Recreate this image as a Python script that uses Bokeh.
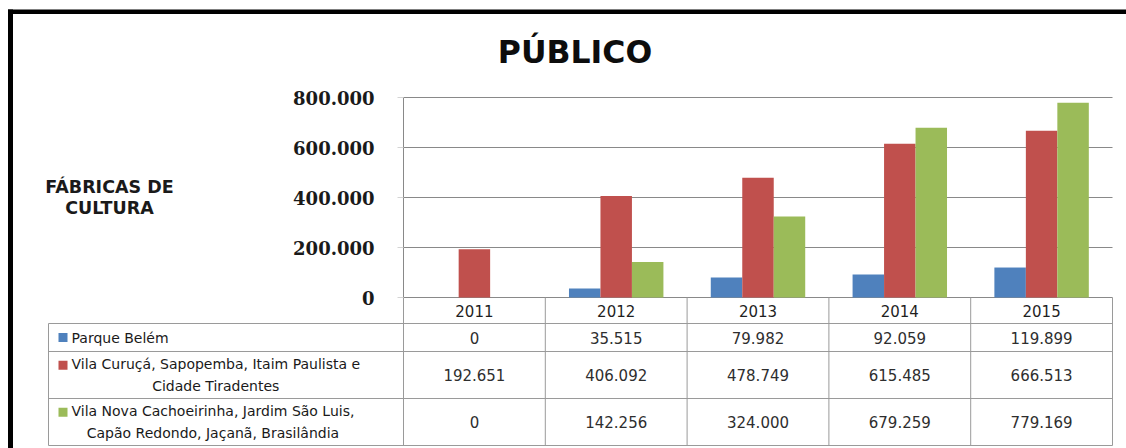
from bokeh.plotting import figure
from bokeh.models import Range1d, FixedTicker, ColumnDataSource
from bokeh.transform import dodge
from bokeh.embed import file_html
from bokeh.resources import INLINE
from bokeh.core.properties import value

# ---------------- data ----------------
years = ["2011", "2012", "2013", "2014", "2015"]
series_names = [
    "Parque Belém",
    "Vila Curuçá, Sapopemba, Itaim Paulista e\nCidade Tiradentes",
    "Vila Nova Cachoeirinha, Jardim São Luis,\nCapão Redondo, Jaçanã, Brasilândia",
]
parque_belem = [0, 35515, 79982, 92059, 119899]
vila_curuca = [192651, 406092, 478749, 615485, 666513]
vila_nova = [0, 142256, 324000, 679259, 779169]
y_ticks = [0, 200000, 400000, 600000, 800000]
y_tick_labels = ["0", "200.000", "400.000", "600.000", "800.000"]
title_text = "PÚBLICO"
side_title = ["FÁBRICAS DE", "CULTURA"]
colors = ["#4F81BD", "#C0504D", "#9BBB59"]

series_values = [parque_belem, vila_curuca, vila_nova]


def fmt(v):
    return f"{v:,}".replace(",", ".")


# ---------------- layout constants (picture pixels) ----------------
W, H = 1126, 448
PLOT_L, PLOT_R = 403, 1112
ZERO_Y, TOP_Y = 297, 97
N = len(years)
COL_W = (PLOT_R - PLOT_L) / N
UPP = y_ticks[-1] / (ZERO_Y - TOP_Y)
GRID_C = "#898989"
TABLE_C = "#9a9a9a"
BAR_W = 0.222


def xa(px):
    return (px - PLOT_L) / COL_W


def ya(py):
    return (ZERO_Y - py) * UPP


p = figure(
    x_range=Range1d(xa(0), xa(W)),
    y_range=Range1d(ya(H), ya(0)),
    width=W, height=H,
    min_border_left=0, min_border_right=0, min_border_top=0, min_border_bottom=0,
    x_axis_location=None,
    title=None,
    toolbar_location=None,
    output_backend="svg",
)
p.outline_line_color = None
p.xgrid.visible = False
p.ygrid.visible = False

# ---------------- y axis placed at the category-axis origin ----------------
ax = p.yaxis[0]
ax.fixed_location = 0.0
ax.ticker = FixedTicker(ticks=y_ticks)
ax.major_label_overrides = dict(zip(y_ticks, y_tick_labels))
ax.bounds = (y_ticks[0], y_ticks[-1])
ax.axis_line_color = GRID_C
ax.major_tick_in = 0
ax.major_tick_out = 6
ax.major_tick_line_color = "#d4d4d4"
ax.minor_tick_line_color = None
ax.major_label_standoff = 23
ax.major_label_text_font = "DejaVu Serif"
ax.major_label_text_font_style = "bold"
ax.major_label_text_font_size = "18px"
ax.major_label_text_color = "#1a1a1a"

# horizontal gridlines across the category span
p.segment(x0=[0.0] * len(y_ticks), y0=y_ticks, x1=[float(N)] * len(y_ticks), y1=y_ticks,
          line_color=GRID_C, line_width=1)

# ---------------- bars ----------------
src = ColumnDataSource(dict(x=[i + 0.5 for i in range(N)], year=years,
                            s0=parque_belem, s1=vila_curuca, s2=vila_nova))
for k, off in enumerate([-BAR_W, 0.0, BAR_W]):
    p.vbar(x=dodge("x", off), top=f"s{k}", width=BAR_W, source=src,
           fill_color=colors[k], line_color=None)

# ---------------- titles ----------------
p.text(x=[xa(574.5)], y=[ya(51)], text=[title_text], text_align="center",
       text_baseline="middle", text_font=value("DejaVu Sans"), text_font_style="bold",
       text_font_size="31.5px", text_color="#0d0d0d")
p.text(x=[xa(109)] * 2, y=[ya(186.5), ya(207)], text=side_title, text_align="center",
       text_baseline="middle", text_font=value("DejaVu Sans"), text_font_style="bold",
       text_font_size="17.5px", text_color="#1a1a1a")

# ---------------- data table ----------------
TAB_L = 48
row_bounds = [ZERO_Y, 323, 351, 398, 445]
yb = [ya(v) for v in row_bounds]

# horizontal lines
p.segment(x0=[xa(TAB_L)] * 4, y0=yb[1:], x1=[float(N)] * 4, y1=yb[1:],
          line_color=TABLE_C, line_width=1)
# vertical lines
vx = [xa(TAB_L)] + [float(i) for i in range(N + 1)]
vy0 = [yb[1]] + [yb[0]] * (N + 1)
p.segment(x0=vx, y0=vy0, x1=vx, y1=[yb[-1]] * len(vx), line_color=TABLE_C, line_width=1)

centers = [i + 0.5 for i in range(N)]
p.text(x=centers, y=[ya((row_bounds[0] + row_bounds[1]) / 2)] * N, text=years,
       text_align="center", text_baseline="middle",
       text_font=value("DejaVu Sans"), text_font_size="15px", text_color="#1f1f1f")

row_centers = [(row_bounds[i + 1] + row_bounds[i + 2]) / 2 for i in range(3)]
vxs, vys, vts = [], [], []
for r, vals in enumerate(series_values):
    for i, v in enumerate(vals):
        vxs.append(centers[i])
        vys.append(ya(row_centers[r]))
        vts.append(fmt(v))
p.text(x=vxs, y=vys, text=vts, text_align="center", text_baseline="middle",
       text_font=value("DejaVu Sans"), text_font_size="15px", text_color="#2e2e2e")

LAB_FS = 14
LINE_H = 1.4
line_sp = LAB_FS * LINE_H
p.text(x=[xa(71)] * 3, y=[ya(rc) for rc in row_centers], text=series_names,
       anchor="center_left", text_align="center", text_baseline="middle",
       text_line_height=LINE_H, text_font=value("DejaVu Sans"),
       text_font_size=f"{LAB_FS}px", text_color="#1a1a1a")
key_y = [ya(rc - name.count("\n") * line_sp / 2) for rc, name in zip(row_centers, series_names)]
p.rect(x=[xa(62.5)] * 3, y=key_y, width=9, height=9, width_units="screen",
       height_units="screen", fill_color=colors, line_color=None)

# ---------------- outer frame (top and left black border) ----------------
p.quad(left=[xa(7.5), xa(7.5)], right=[xa(12.5), xa(W)],
       top=[ya(9), ya(9)], bottom=[ya(H), ya(13.5)],
       fill_color="black", line_color=None)

open("out.html", "w").write(file_html(p, INLINE))
